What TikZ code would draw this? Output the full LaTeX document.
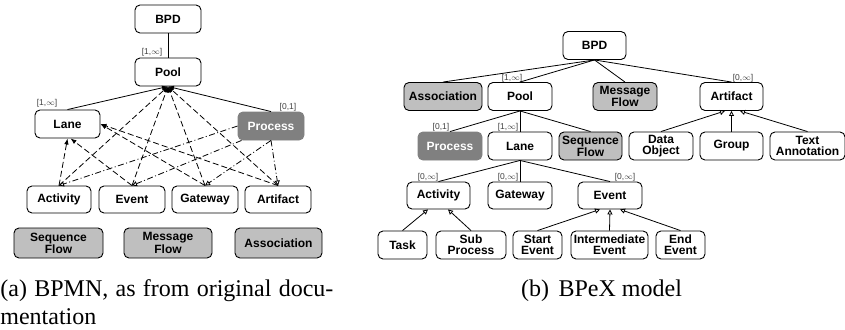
\documentclass[tikz,border=0pt]{standalone}
\usepackage{fontspec}
\setmainfont{Liberation Serif}
\setsansfont{Liberation Sans}
\usepackage{tikz}
\usetikzlibrary{arrows.meta,calc}
\tikzset{
  box/.style={draw,rounded corners=5pt,line width=0.9pt,fill=white,align=center,
    font=\sffamily\bfseries\fontsize{12}{11}\selectfont,inner sep=0pt,minimum height=28pt},
  lightbox/.style={box,fill=black!25},
  darkbox/.style={box,draw=black!50,fill=black!50,text=white},
  card/.style={font=\sffamily\fontsize{8.5}{8.5}\selectfont,text=black!75,inner sep=0pt},
  contain/.style={-{Latex[length=6pt,width=4.5pt]}},
  isa/.style={-{Triangle[open,length=5pt,width=5pt]}},
  dsh/.style={dash pattern=on 6pt off 3pt},
  dshdot/.style={dash pattern=on 6pt off 2.5pt on 1pt off 2.5pt},
  capt/.style={font=\fontsize{24}{28}\selectfont,inner sep=0pt},
}

\begin{document}
\begin{tikzpicture}[x=1pt,y=-1pt,line width=0.8pt]
\useasboundingbox (0,0) rectangle (845,329);

% (a) BPMN
\node[box,minimum width=66pt] (bpdA) at (168,19) {BPD};
\node[box,minimum width=66pt] (poolA) at (168,72) {Pool};
\node[box,minimum width=65pt] (laneA) at (67.5,124) {Lane};
\node[darkbox,minimum width=66pt] (procA) at (271,126) {Process};
\node[box,minimum width=64pt,minimum height=27pt] (actA) at (59,199.5) {Activity};
\node[box,minimum width=66pt,minimum height=27pt] (evA) at (132,199.5) {Event};
\node[box,minimum width=66pt,minimum height=27pt] (gwA) at (205,199.5) {Gateway};
\node[box,minimum width=66pt,minimum height=27pt] (artA) at (278,199.5) {Artifact};
\node[lightbox,minimum width=89pt,minimum height=30pt] (seqA) at (58.5,243) {Sequence\\Flow};
\node[lightbox,minimum width=88pt,minimum height=30pt] (msgA) at (168,243) {Message\\Flow};
\node[lightbox,minimum width=87pt,minimum height=30pt] (assA) at (278.5,243) {Association};

\node[card] (c1A) at (152,52) {[1,$\infty$]};
\node[card] (c2A) at (47,103) {[1,$\infty$]};
\node[card] (c3A) at (288,107) {[0,1]};

\draw (bpdA) -- (poolA);
\draw[contain] (laneA.north) -- (poolA.south);
\draw[contain] (procA.north) -- (poolA.south);

% elements inside the pool
\foreach \n in {actA,evA,gwA,artA}
  \draw[dsh,contain] (\n.north) -- (poolA.south);

% elements inside the lane
\draw[dsh,contain] (actA.north) -- (laneA.south);
\draw[dsh,contain] (evA.north) -- ($(laneA.south)+(3,0)$);
\draw[dsh,contain] (gwA.north) -- (laneA.east);
\draw[dsh,contain] (artA.north) -- (laneA.east);

% process
\draw[dshdot,isa] (procA.west) -- (actA.north);
\draw[dshdot,isa] ($(procA.south west)+(4,0)$) -- (evA.north);
\draw[dshdot,isa] (procA.south) -- (gwA.north);
\draw[dshdot,isa] (procA.south) -- (artA.north);

\node[capt,text width=333pt,align=justify,anchor=base west] (captA) at (0,296)
  {(a) BPMN, as from original docu-\linebreak mentation};

% (b) BPeX model
\node[box,minimum width=63pt] (bpdB) at (594.5,45.5) {BPD};
\node[lightbox,minimum width=78pt] (assB) at (443,96.5) {Association};
\node[box,minimum width=64pt] (poolB) at (520,96.5) {Pool};
\node[lightbox,minimum width=64pt] (msgB) at (625,96.5) {Message\\Flow};
\node[box,minimum width=63pt] (artB) at (731.5,96.5) {Artifact};

\node[darkbox,minimum width=64pt] (procB) at (450,146) {Process};
\node[box,minimum width=64pt] (laneB) at (520,146) {Lane};
\node[lightbox,minimum width=63pt] (seqB) at (590.5,146) {Sequence\\Flow};
\node[box,minimum width=64pt] (dataB) at (661,146) {Data\\Object};
\node[box,minimum width=63pt] (grpB) at (731.5,146) {Group};
\node[box,minimum width=75pt] (textB) at (807.5,146) {Text\\Annotation};

\node[box,minimum width=63pt,minimum height=27pt] (actB) at (438.5,195.5) {Activity};
\node[box,minimum width=64pt,minimum height=27pt] (gwB) at (520,195.5) {Gateway};
\node[box,minimum width=64pt,minimum height=27pt] (evB) at (610,195.5) {Event};

\node[box,minimum width=49pt] (taskB) at (402.5,245) {Task};
\node[box,minimum width=70pt] (subB) at (471,245) {Sub\\Process};
\node[box,minimum width=49pt] (startB) at (537.5,245) {Start\\Event};
\node[box,minimum width=77pt] (interB) at (609.5,245) {Intermediate\\Event};
\node[box,minimum width=49pt] (endB) at (680.5,245) {End\\Event};

\node[card] (c1B) at (512,78) {[1,$\infty$]};
\node[card] (c2B) at (743,78) {[0,$\infty$]};
\node[card] (c3B) at (441,127) {[0,1]};
\node[card] (c4B) at (508,127) {[1,$\infty$]};
\node[card] (c5B) at (428,177) {[0,$\infty$]};
\node[card] (c6B) at (508,177) {[0,$\infty$]};
\node[card] (c7B) at (625,177) {[0,$\infty$]};

\foreach \n in {assB,poolB,msgB,artB}
  \draw (bpdB.south) -- (\n.north);
\foreach \n in {procB,laneB,seqB}
  \draw (poolB.south) -- (\n.north);
\foreach \n in {actB,gwB,evB}
  \draw (laneB.south) -- (\n.north);

% generalisations
\draw[isa] (dataB.north) -- ($(artB.south)+(-6.5,0)$);
\draw[isa] (grpB.north) -- (artB.south);
\draw[isa] (textB.north) -- ($(artB.south)+(8.5,0)$);
\draw[isa] (taskB.north) -- ($(actB.south)+(-10.5,0)$);
\draw[isa] (subB.north) -- ($(actB.south)+(9.5,0)$);
\draw[isa] (startB.north) -- ($(evB.south)+(-10,0)$);
\draw[isa] (interB.north) -- (evB.south);
\draw[isa] (endB.north) -- ($(evB.south)+(10,0)$);

\node[capt,anchor=base] (captB) at (601.5,296) {(b)\hspace{0.4em}BPeX model};
\end{tikzpicture}
\end{document}
